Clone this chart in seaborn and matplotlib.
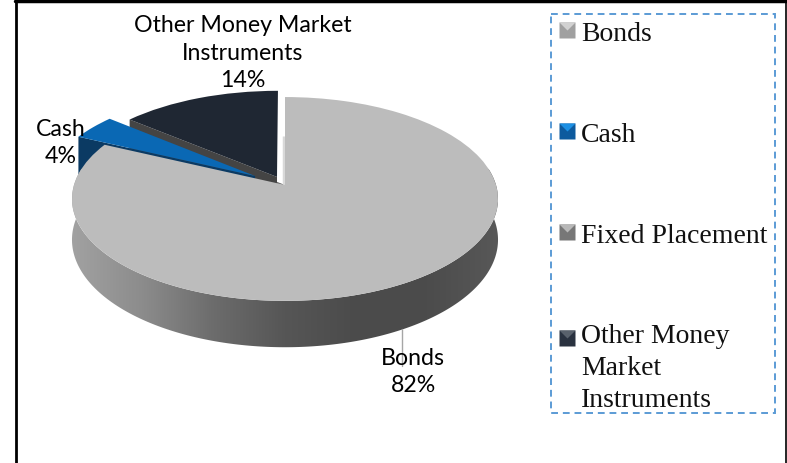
import numpy as np
import seaborn as sns
import matplotlib.pyplot as plt
from matplotlib.colors import LinearSegmentedColormap
from matplotlib.legend_handler import HandlerTuple
from matplotlib.lines import Line2D
from matplotlib.patches import Polygon, Rectangle
from matplotlib.transforms import Transform

categories = ["Bonds", "Cash", "Fixed Placement", "Other Money Market Instruments"]
legend_labels = ["Bonds", "Cash", "Fixed Placement", "Other Money\nMarket\nInstruments"]
values = [82, 4, 0, 14]
explode = [0, 0.17, 0, 0.09]
top_colors = ["#bcbcbc", "#0a68b4", "#8a8a8a", "#1f2733"]
side_colors = ["#777777", "#0b3a63", "#666666", "#444444"]
handle_base = ["#a0a0a0", "#0d5a9e", "#777777", "#2a3240"]
handle_tip = ["#d2d2d2", "#1c90e4", "#b8b8b8", "#59616c"]

# data labels: text, centre x, centre y in picture pixels
data_labels = [
    ("Other Money Market\nInstruments\n14%", 243, 53),
    ("Cash\n4%", 61, 143),
    ("Bonds\n82%", 413, 372),
]

CX, CY, BX, BY, K, DEPTH = 285, 186, 211, 100, 0.137, 40

sns.set_theme(style="white")
plt.rcParams["font.family"] = ["Lato", "DejaVu Sans"]


def project(u, v):
    w = 1 + K * v
    return CX + BX * u / w, CY - BY * v / w


class Tilt(Transform):
    input_dims = 2
    output_dims = 2

    def transform_non_affine(self, values):
        x, y = project(values[:, 0], values[:, 1])
        return np.column_stack([x, y])


class RaisedTuple(HandlerTuple):
    # puts the legend square next to the first line of a wrapped label
    def __init__(self, lift, **kwargs):
        super().__init__(**kwargs)
        self.lift = lift

    def create_artists(self, legend, orig_handle, xdescent, ydescent, width, height, fontsize, trans):
        return super().create_artists(legend, orig_handle, xdescent, ydescent - self.lift,
                                      width, height, fontsize, trans)


def rim(center, r, deg, drop=False):
    a = np.radians(deg)
    u = center[0] + r * np.cos(a)
    v = center[1] + r * np.sin(a)
    x, y = project(u, v)
    if drop:
        y = y + DEPTH / (1 + K * v)
    return np.column_stack([x, y])


fig = plt.figure(figsize=(7.87, 4.64), dpi=100)
ax = fig.add_axes([0, 0, 1, 1])

wedges, _ = ax.pie(values, explode=explode, colors=top_colors, startangle=90,
                   counterclock=False, radius=1, wedgeprops={"linewidth": 0})
ax.set_aspect("auto")

order = {"Bonds": 6, "Cash": 4, "Fixed Placement": 2, "Other Money Market Instruments": 2}
for w, name, side in zip(wedges, categories, side_colors):
    w.set_transform(Tilt() + ax.transData)
    w.set_zorder(order[name])
    if name == "Bonds":
        continue
    # cut face on the front edge of the pulled out slices
    edge = np.array([w.theta2])
    tip = np.array(project(w.center[0], w.center[1]))
    a = rim(w.center, w.r, edge)[0]
    b = rim(w.center, w.r, edge, drop=True)[0]
    c = rim(w.center, 0, edge, drop=True)[0]
    ax.add_patch(Polygon([a, b, c, tip], closed=True, fc=side, ec="none", zorder=order[name] - 1))

# outer wall of the big slice, grey gradient clipped to it
bonds = wedges[0]
deg = np.linspace(bonds.theta1, bonds.theta2, 400)
wall = np.vstack([rim(bonds.center, 1, deg), rim(bonds.center, 1, deg[::-1], drop=True)])
wall_cmap = LinearSegmentedColormap.from_list(
    "wall", ["#a2a2a2", "#8c8c8c", "#6c6c6c", "#565656", "#4b4b4b", "#4c4c4c", "#585858"])
im = ax.imshow(np.linspace(0, 1, 256)[None, :], cmap=wall_cmap, aspect="auto",
               extent=(70, 500, 380, 170), zorder=5)
im.set_clip_path(Polygon(wall, closed=True, transform=ax.transData))

# inner cut face of the big slice, only a sliver shows
sl = np.array([project(0, 0.52), project(0, 0)])
ax.plot(sl[:, 0] - 1.5, sl[:, 1] + [0, 2], color="#d8d8d8", lw=2.5, zorder=5, solid_capstyle="butt")

ax.plot([402, 402], [330, 367], color="#a6a6a6", lw=1, zorder=7)

for txt, x, y in data_labels:
    ax.text(x, y, txt, ha="center", va="center", fontsize=16.7, color="black",
            linespacing=1.36, zorder=8)

# table rules around the picture
ax.plot([16, 16], [2, 464], color="black", lw=2, zorder=9)
ax.plot([15, 787], [2, 2], color="black", lw=2.5, zorder=9)
ax.plot([786, 786], [2, 464], color="black", lw=1.2, zorder=9)
ax.plot([204, 204], [0, 2], color="black", lw=1.5, zorder=9)
ax.plot([672, 672], [0, 2], color="black", lw=1, zorder=9)

# legend frame is its own patch, the legend's padding is the same on all sides
ax.add_patch(Rectangle((551, 15), 224, 399, fc="none", ec="#5b9bd5", lw=1.4,
                       ls=(0, (3.5, 2.5)), zorder=9))

tip_marker = [(-1, 1), (1, 1), (0, 0)]
handles = []
for base, tip in zip(handle_base, handle_tip):
    h1 = Line2D([], [], ls="none", marker="s", ms=11.5, mfc=base, mec="none")
    h2 = Line2D([], [], ls="none", marker=tip_marker, ms=11.5, mfc=tip, mec="none")
    handles.append((h1, h2))

hmap = {tuple: HandlerTuple(ndivide=1, pad=0), handles[3]: RaisedTuple(42, ndivide=1, pad=0)}
leg = ax.legend(handles, legend_labels, handler_map=hmap,
                loc="upper left", bbox_to_anchor=(551, 13), bbox_transform=ax.transData,
                borderaxespad=0, borderpad=0.3, labelspacing=2.72, handlelength=0.58,
                handletextpad=0.2, frameon=False,
                prop={"family": "Liberation Serif", "size": 20})
for t in leg.get_texts():
    t.set_linespacing(1.35)
    t.set_color("#111111")
leg.set_zorder(9)

ax.set_xlim(0, 787)
ax.set_ylim(464, 0)
ax.set_axis_off()

fig.savefig("out.png", dpi=100)
